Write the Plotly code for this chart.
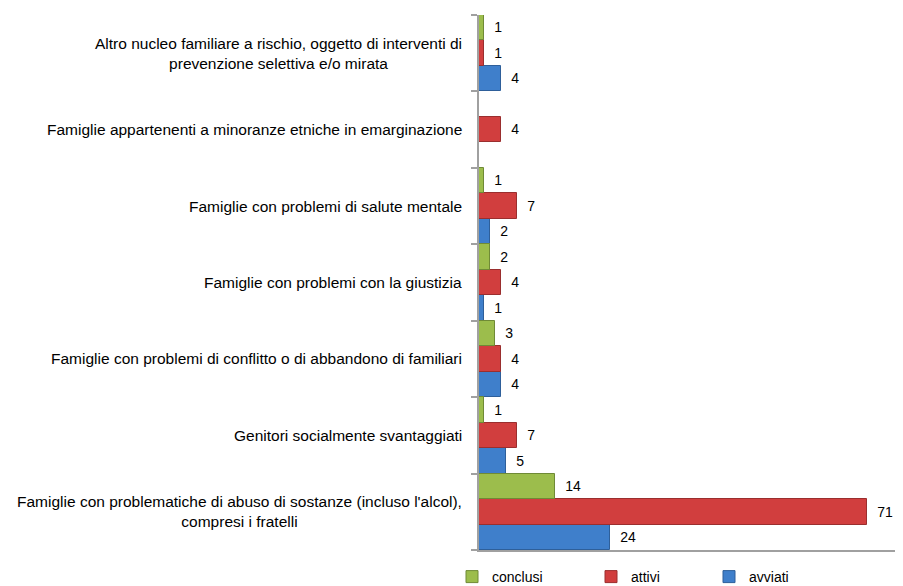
import plotly.graph_objects as go

# categories listed bottom-to-top (as on the chart's category axis)
categories = [
    "Famiglie con problematiche di abuso di sostanze (incluso l'alcol),<br>compresi i fratelli",
    "Genitori socialmente svantaggiati",
    "Famiglie con problemi di conflitto o di abbandono di familiari",
    "Famiglie con problemi con la giustizia",
    "Famiglie con problemi di salute mentale",
    "Famiglie appartenenti a minoranze etniche in emarginazione",
    "Altro nucleo familiare a rischio, oggetto di interventi di<br>prevenzione selettiva e/o mirata",
]
avviati = [24, 5, 4, 1, 2, None, 4]
attivi = [71, 7, 4, 4, 7, 4, 1]
conclusi = [14, 1, 3, 2, 1, None, 1]

series = [
    ("avviati", avviati, "#3F7FCB", "#2E5F9A", "legend3"),
    ("attivi", attivi, "#D13E3E", "#9A2E2E", "legend2"),
    ("conclusi", conclusi, "#9CBD4C", "#6F8A36", "legend"),
]

FONT = "Liberation Sans, Arial, sans-serif"
fig = go.Figure()
for name, vals, col, edge, lg in series:
    fig.add_trace(go.Bar(
        y=categories, x=vals, name=name, orientation="h",
        marker=dict(color=col, line=dict(color=edge, width=1)),
        text=vals, texttemplate="\u00a0\u00a0%{x}", textposition="outside",
        textfont=dict(family=FONT, size=14, color="#000"),
        cliponaxis=False, legend=lg, showlegend=True,
    ))

for c in categories:
    fig.add_annotation(
        x=0, xref="paper", y=c, yref="y", text=c, showarrow=False,
        xanchor="right", align="center", xshift=-15,
        font=dict(family=FONT, size=15.5, color="#000"),
    )

# page has an 8px body margin; figure is sized/offset to compensate
L, T, W, H, B = 471, 7, 895, 578, 36
PW = W - L
leg_y = -(569 - (H - B)) / (H - B - T)
fig.update_layout(
    width=W, height=H,
    margin=dict(l=L, r=0, t=T, b=B, autoexpand=False),
    plot_bgcolor="white", paper_bgcolor="white",
    barmode="group", bargap=0, bargroupgap=0,
    showlegend=True,
    font=dict(family=FONT, size=14, color="#000"),
    xaxis=dict(range=[0, 77.6], showgrid=False, zeroline=False,
               showticklabels=False, ticks="", showline=True,
               linecolor="#A0A0A0", linewidth=1.5, fixedrange=True),
    yaxis=dict(categoryorder="array", categoryarray=categories,
               showticklabels=False, showgrid=False, zeroline=False,
               showline=True, linecolor="#A0A0A0", linewidth=2,
               ticks="outside", tickson="boundaries", ticklen=6,
               tickcolor="#A0A0A0", tickwidth=1.5),
    legend=dict(orientation="h", x=(444 - L) / PW, y=leg_y,
                xanchor="left", yanchor="middle", font=dict(size=14)),
    legend2=dict(orientation="h", x=(583 - L) / PW, y=leg_y,
                 xanchor="left", yanchor="middle", font=dict(size=14)),
    legend3=dict(orientation="h", x=(701 - L) / PW, y=leg_y,
                 xanchor="left", yanchor="middle", font=dict(size=14)),
)

fig.write_html("out.html")
